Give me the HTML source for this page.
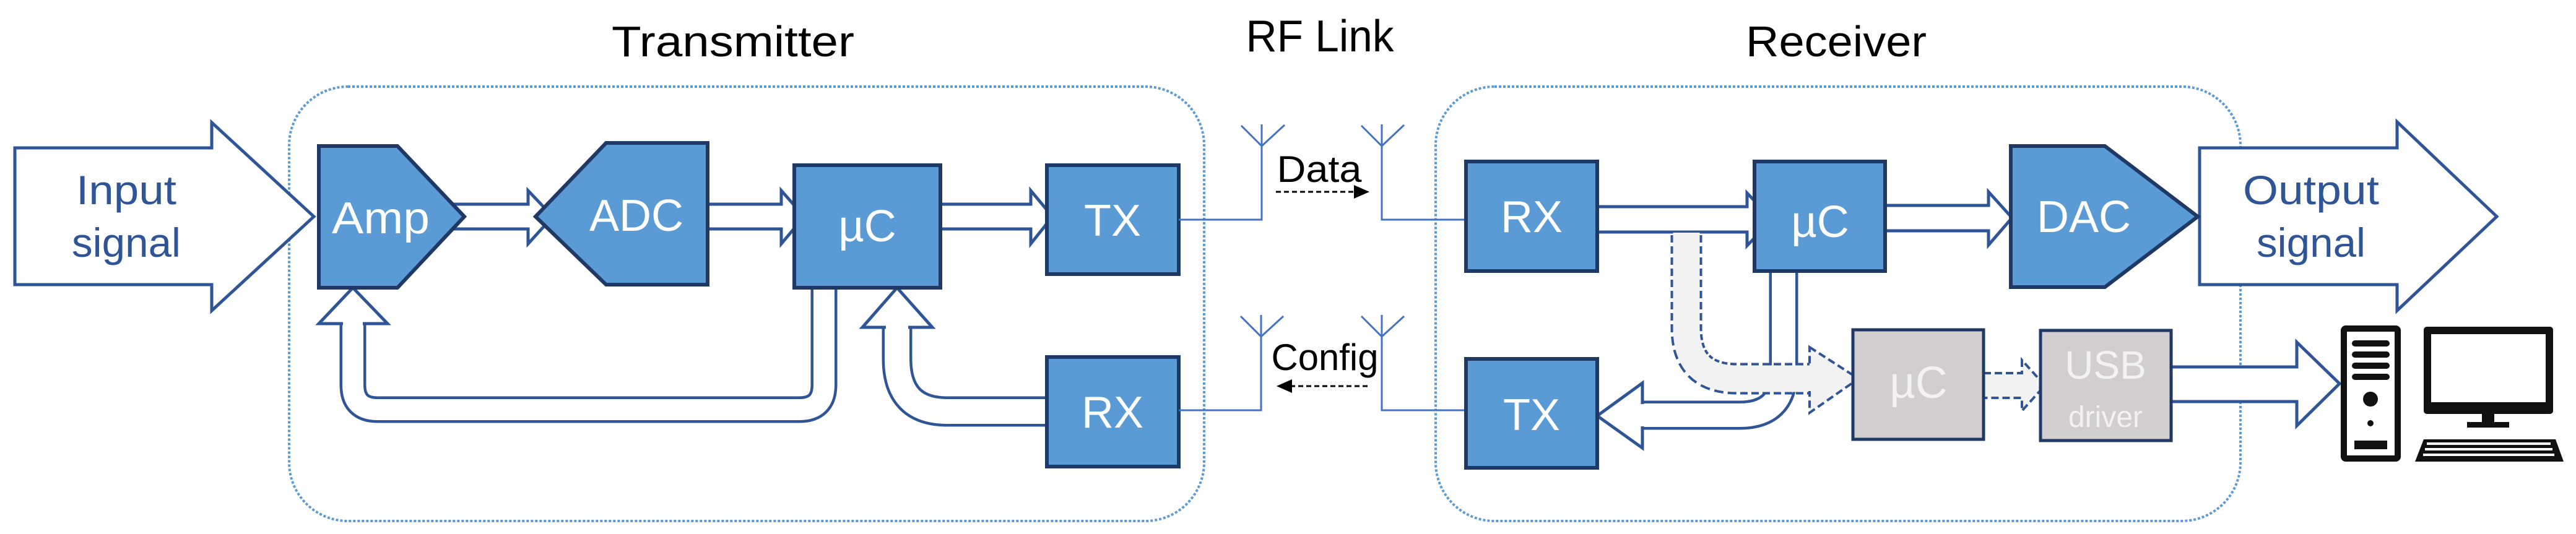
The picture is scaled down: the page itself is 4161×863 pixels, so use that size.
<!DOCTYPE html>
<html><head><meta charset="utf-8"><style>
html,body{margin:0;padding:0;background:#fff;}
svg{display:block;}
text{font-family:"Liberation Sans",sans-serif;}
</style></head><body>
<svg width="4161" height="863" viewBox="0 0 4161 863" xmlns="http://www.w3.org/2000/svg">
<rect x="467" y="140" width="1478" height="702" rx="95" fill="none" stroke="#5b9bd5" stroke-width="4" stroke-dasharray="4 3"/>
<rect x="2319" y="140" width="1300" height="702" rx="95" fill="none" stroke="#5b9bd5" stroke-width="4" stroke-dasharray="4 3"/>

<text x="1184" y="91" font-size="70" text-anchor="middle" textLength="392" lengthAdjust="spacingAndGlyphs">Transmitter</text>
<text x="2132" y="83" font-size="72" text-anchor="middle" textLength="239" lengthAdjust="spacingAndGlyphs">RF Link</text>
<text x="2966" y="91" font-size="70" text-anchor="middle" textLength="292" lengthAdjust="spacingAndGlyphs">Receiver</text>

<polygon points="24,239 342,239 342,198 507,350 342,502 342,460 24,460" fill="#fff" stroke="#2f5597" stroke-width="5"/>
<text x="204" y="330" font-size="66" fill="#2f5597" text-anchor="middle" textLength="162" lengthAdjust="spacingAndGlyphs">Input</text>
<text x="204" y="415" font-size="66" fill="#2f5597" text-anchor="middle" textLength="176" lengthAdjust="spacingAndGlyphs">signal</text>

<polygon points="3553,239 3872,239 3872,197 4033,350 3872,502 3872,460 3553,460" fill="#fff" stroke="#2f5597" stroke-width="5"/>
<text x="3733" y="330" font-size="66" fill="#2f5597" text-anchor="middle" textLength="220" lengthAdjust="spacingAndGlyphs">Output</text>
<text x="3733" y="415" font-size="66" fill="#2f5597" text-anchor="middle" textLength="176" lengthAdjust="spacingAndGlyphs">signal</text>

<g fill="#fff" stroke="#2f5597" stroke-width="5">
<polygon points="735,330 853,330 853,308 893,350 853,394 853,370 735,370"/>
<polygon points="1143,330 1262,330 1262,308 1299,350 1262,394 1262,370 1143,370"/>
<polygon points="1519,330 1665,330 1665,308 1700,350 1665,394 1665,370 1519,370"/>
</g>

<path d="M1331,462 L1331,622 Q1331,662 1291,662 L610,662 Q570,662 570,622 L570,520" fill="none" stroke="#2f5597" stroke-width="43"/>
<path d="M1331,455 L1331,622 Q1331,662 1291,662 L610,662 Q570,662 570,622 L570,515" fill="none" stroke="#fff" stroke-width="34"/>
<polygon points="515,523 626,523 570,465" fill="#fff" stroke="#2f5597" stroke-width="5"/>
<rect x="554" y="519" width="32" height="10" fill="#fff"/>

<path d="M1694,665 L1530,665 Q1449,665 1449,580 L1449,525" fill="none" stroke="#2f5597" stroke-width="49"/>
<path d="M1700,665 L1530,665 Q1449,665 1449,580 L1449,520" fill="none" stroke="#fff" stroke-width="40"/>
<polygon points="1393,529 1506,529 1449,465" fill="#fff" stroke="#2f5597" stroke-width="5"/>
<rect x="1431" y="525" width="36" height="10" fill="#fff"/>

<g fill="#5b9bd5" stroke="#203864" stroke-width="6">
<polygon points="515,236 642,236 750,350 642,465 515,465"/>
<polygon points="979,231 1143,231 1143,460 979,460 865,350"/>
<rect x="1283" y="267" width="236" height="198"/>
<rect x="1691" y="267" width="213" height="176"/>
<rect x="1691" y="577" width="213" height="177"/>
</g>
<g fill="#fff" font-size="72" text-anchor="middle">
<text x="615" y="377" textLength="158" lengthAdjust="spacingAndGlyphs">Amp</text>
<text x="1028" y="373">ADC</text>
<text x="1401" y="390">µC</text>
<text x="1797" y="381">TX</text>
<text x="1797" y="691">RX</text>
</g>

<g fill="none" stroke="#4472c4" stroke-width="3">
<path d="M1904,355 L2038,355 L2038,201 M2005,203 L2038,236 L2075,202"/>
<path d="M2368,355 L2232,355 L2232,201 M2199,203 L2232,236 L2268,202"/>
<path d="M1904,663 L2037,663 L2037,509 M2004,511 L2037,544 L2073,511"/>
<path d="M2368,663 L2232,663 L2232,509 M2199,511 L2232,544 L2268,511"/>
</g>
<text x="2131" y="294" font-size="60" text-anchor="middle" textLength="137" lengthAdjust="spacingAndGlyphs">Data</text>
<line x1="2061" y1="310" x2="2190" y2="310" stroke="#000" stroke-width="3" stroke-dasharray="8 5"/>
<polygon points="2187,299 2212,310 2187,321"/>
<text x="2140" y="598" font-size="60" text-anchor="middle" textLength="173" lengthAdjust="spacingAndGlyphs">Config</text>
<line x1="2084" y1="624" x2="2211" y2="624" stroke="#000" stroke-width="3" stroke-dasharray="8 5"/>
<polygon points="2087,613 2062,624 2087,635"/>

<g fill="#fff" stroke="#2f5597" stroke-width="5">
<polygon points="2580,334 2822,334 2822,312 2863,355 2822,397 2822,375 2580,375"/>
<polygon points="3045,332 3212,332 3212,310 3250,352 3212,396 3212,373 3045,373"/>
<polygon points="3507,593 3710,593 3710,553 3779,620 3710,688 3710,649 3507,649"/>
</g>

<path d="M2881,436 L2881,600 Q2881,671 2810,671 L2650,671" fill="none" stroke="#2f5597" stroke-width="47"/>
<path d="M2881,430 L2881,600 Q2881,671 2810,671 L2645,671" fill="none" stroke="#fff" stroke-width="38"/>
<polygon points="2653,619 2653,724 2580,672" fill="#fff" stroke="#2f5597" stroke-width="5"/>
<rect x="2649" y="653" width="10" height="36" fill="#fff"/>

<path d="M2724,380 L2724,530 Q2724,612 2806,612 L2926,612" fill="none" stroke="#2f5597" stroke-width="51" stroke-dasharray="12 6"/>
<path d="M2724,376 L2724,530 Q2724,612 2806,612 L2930,612" fill="none" stroke="#f2f2f2" stroke-width="43"/>
<polygon points="2923,561 3002,612 2923,667" fill="#f2f2f2" stroke="#2f5597" stroke-width="4" stroke-dasharray="12 6"/>
<rect x="2919" y="592" width="10" height="40" fill="#f2f2f2"/>

<polygon points="3204,603 3266,603 3266,582 3303,623 3266,664 3266,643 3204,643" fill="#f2f2f2" stroke="#2f5597" stroke-width="4" stroke-dasharray="12 6"/>

<g fill="#5b9bd5" stroke="#203864" stroke-width="6">
<rect x="2368" y="261" width="212" height="177"/>
<rect x="2834" y="261" width="211" height="177"/>
<polygon points="3248,236 3400,236 3550,350 3400,464 3248,464"/>
<rect x="2368" y="580" width="212" height="176"/>
</g>
<g fill="#d0cece" stroke="#203864" stroke-width="5">
<rect x="2993" y="533" width="211" height="177"/>
<rect x="3296" y="534" width="211" height="178"/>
</g>
<g fill="#fff" font-size="72" text-anchor="middle">
<text x="2474" y="375">RX</text>
<text x="2940" y="383">µC</text>
<text x="3366" y="375">DAC</text>
<text x="2474" y="695">TX</text>
</g>
<g fill="#f2f2f2" text-anchor="middle">
<text x="3099" y="643" font-size="72">µC</text>
<text x="3401" y="612" font-size="64">USB</text>
<text x="3401" y="690" font-size="48">driver</text>
</g>

<g>
<rect x="3781" y="526" width="97" height="220" rx="8" fill="#111"/>
<rect x="3791" y="536" width="77" height="200" fill="#fff"/>
<rect x="3799" y="550" width="61" height="10" rx="5" fill="#111"/>
<rect x="3799" y="568" width="61" height="10" rx="5" fill="#111"/>
<rect x="3799" y="586" width="61" height="10" rx="5" fill="#111"/>
<rect x="3799" y="604" width="61" height="10" rx="5" fill="#111"/>
<circle cx="3829" cy="645" r="12" fill="#111"/>
<circle cx="3829" cy="684" r="5" fill="#111"/>
<rect x="3803" y="712" width="53" height="14" fill="#111"/>
<rect x="3915" y="528" width="209" height="141" rx="5" fill="#111"/>
<rect x="3927" y="540" width="185" height="110" fill="#fff"/>
<rect x="4009" y="669" width="20" height="14" fill="#111"/>
<rect x="3985" y="682" width="68" height="9" fill="#111"/>
<polygon points="3915,710 4128,710 4141,746 3901,746" fill="#111"/>
<g fill="#fff">
<rect x="3920" y="715" width="200" height="4"/><rect x="3917" y="724" width="206" height="4"/><rect x="3914" y="733" width="212" height="4"/>
</g>
</g>
</svg>
</body></html>
